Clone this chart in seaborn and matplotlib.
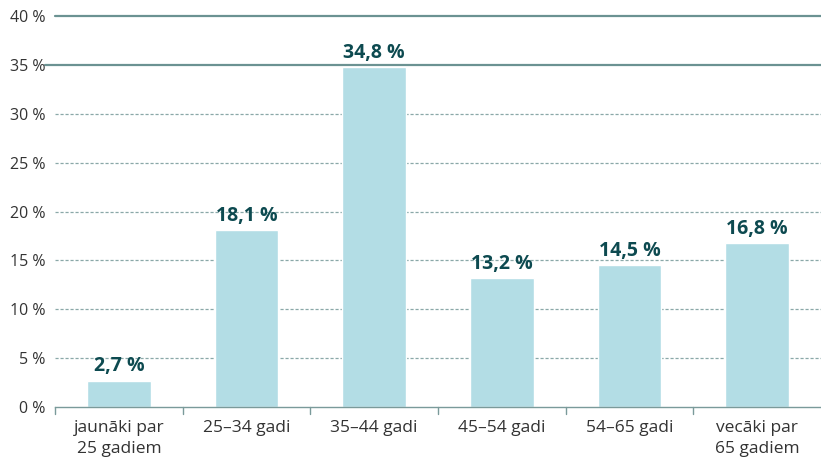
import matplotlib
matplotlib.use("Agg")
import matplotlib.pyplot as plt
import seaborn as sns
import pandas as pd

categories = ["jaunāki par\n25 gadiem", "25–34 gadi", "35–44 gadi", "45–54 gadi", "54–65 gadi", "vecāki par\n65 gadiem"]
values = [2.7, 18.1, 34.8, 13.2, 14.5, 16.8]
value_labels = ["2,7 %", "18,1 %", "34,8 %", "13,2 %", "14,5 %", "16,8 %"]
yticks = [0, 5, 10, 15, 20, 25, 30, 35, 40]
ytick_labels = ["0 %", "5 %", "10 %", "15 %", "20 %", "25 %", "30 %", "35 %", "40 %"]

sns.set_style("white")
plt.rcParams['font.family'] = ['Open Sans', 'DejaVu Sans']

df = pd.DataFrame({"cat": categories, "val": values})

fig = plt.figure(figsize=(8.21, 4.57), dpi=100)
ax = fig.add_axes([55/821, 50/457, 766/821, 391/457])

bar_color = "#b3dde5"
sns.barplot(data=df, x="cat", y="val", color=bar_color, width=0.5, ax=ax, saturation=1)

ax.set_ylim(0, 40)
ax.set_xlim(-0.5, 5.5)
ax.set_yticks(yticks)
ax.set_yticklabels(ytick_labels, fontsize=11.5, color="#333333")
ax.set_xlabel("")
ax.set_ylabel("")
ax.tick_params(axis="y", length=0, pad=7)
ax.tick_params(axis="x", length=0, pad=9, labelsize=12.5, labelcolor="#333333")
for t in ax.get_xticklabels():
    t.set_linespacing(1.45)

grid_color = "#8aa8a8"
for y in [5, 10, 15, 20, 25, 30]:
    ax.axhline(y, color=grid_color, lw=0.9, ls=(0, (2.5, 1.5)), zorder=0)
ax.axhline(40, color="#6b9292", lw=1.6, zorder=0, clip_on=False)
ax.axhline(35, xmin=-10/766, xmax=1, color="#6b9292", lw=1.6, zorder=0, clip_on=False)

for s in ["top", "right", "left"]:
    ax.spines[s].set_visible(False)
ax.spines["bottom"].set_color("#7a9a9a")
ax.spines["bottom"].set_linewidth(1.0)

# category boundary ticks
for b in [-0.5, 0.5, 1.5, 2.5, 3.5, 4.5]:
    ax.plot([b, b], [0, -0.018], transform=ax.get_xaxis_transform(), color="#7a9a9a", lw=1.0, clip_on=False)

for i, (v, lab) in enumerate(zip(values, value_labels)):
    ax.annotate(lab, xy=(i, v), xytext=(0, 3), textcoords="offset points",
                ha="center", va="bottom", fontsize=14, fontweight="bold", color="#0d4a50")

fig.savefig("out.png", dpi=100)
